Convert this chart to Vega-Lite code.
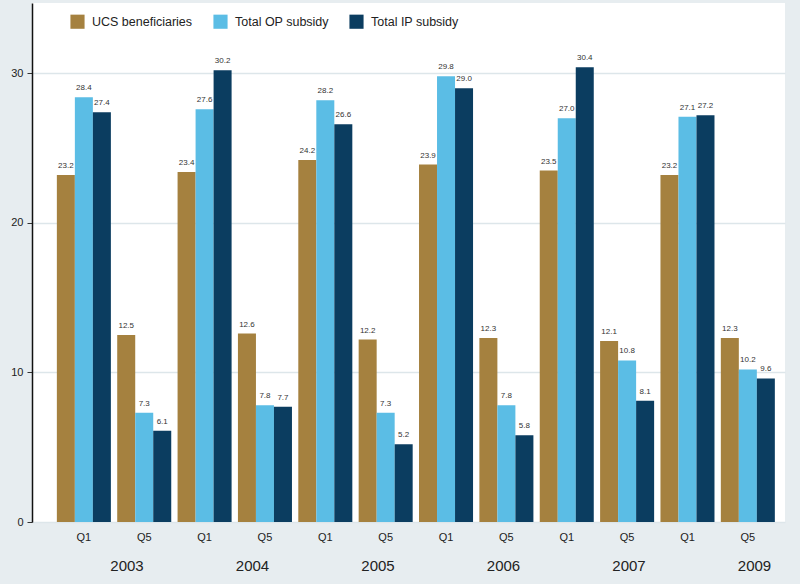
{
  "$schema": "https://vega.github.io/schema/vega-lite/v6.json",
  "width": 753,
  "height": 519,
  "autosize": {"type": "none"},
  "padding": {"left": 32, "top": 3, "right": 15, "bottom": 62},
  "background": "#e7edf0",
  "config": {
    "view": {"fill": "white", "stroke": null},
    "font": "Liberation Sans"
  },
  "datasets": {
    "bars": [
      {"yq": "2003 Q1", "series": "UCS beneficiaries", "value": 23.2},
      {"yq": "2003 Q1", "series": "Total OP subsidy", "value": 28.4},
      {"yq": "2003 Q1", "series": "Total IP subsidy", "value": 27.4},
      {"yq": "2003 Q5", "series": "UCS beneficiaries", "value": 12.5},
      {"yq": "2003 Q5", "series": "Total OP subsidy", "value": 7.3},
      {"yq": "2003 Q5", "series": "Total IP subsidy", "value": 6.1},
      {"yq": "2004 Q1", "series": "UCS beneficiaries", "value": 23.4},
      {"yq": "2004 Q1", "series": "Total OP subsidy", "value": 27.6},
      {"yq": "2004 Q1", "series": "Total IP subsidy", "value": 30.2},
      {"yq": "2004 Q5", "series": "UCS beneficiaries", "value": 12.6},
      {"yq": "2004 Q5", "series": "Total OP subsidy", "value": 7.8},
      {"yq": "2004 Q5", "series": "Total IP subsidy", "value": 7.7},
      {"yq": "2005 Q1", "series": "UCS beneficiaries", "value": 24.2},
      {"yq": "2005 Q1", "series": "Total OP subsidy", "value": 28.2},
      {"yq": "2005 Q1", "series": "Total IP subsidy", "value": 26.6},
      {"yq": "2005 Q5", "series": "UCS beneficiaries", "value": 12.2},
      {"yq": "2005 Q5", "series": "Total OP subsidy", "value": 7.3},
      {"yq": "2005 Q5", "series": "Total IP subsidy", "value": 5.2},
      {"yq": "2006 Q1", "series": "UCS beneficiaries", "value": 23.9},
      {"yq": "2006 Q1", "series": "Total OP subsidy", "value": 29.8},
      {"yq": "2006 Q1", "series": "Total IP subsidy", "value": 29.0},
      {"yq": "2006 Q5", "series": "UCS beneficiaries", "value": 12.3},
      {"yq": "2006 Q5", "series": "Total OP subsidy", "value": 7.8},
      {"yq": "2006 Q5", "series": "Total IP subsidy", "value": 5.8},
      {"yq": "2007 Q1", "series": "UCS beneficiaries", "value": 23.5},
      {"yq": "2007 Q1", "series": "Total OP subsidy", "value": 27.0},
      {"yq": "2007 Q1", "series": "Total IP subsidy", "value": 30.4},
      {"yq": "2007 Q5", "series": "UCS beneficiaries", "value": 12.1},
      {"yq": "2007 Q5", "series": "Total OP subsidy", "value": 10.8},
      {"yq": "2007 Q5", "series": "Total IP subsidy", "value": 8.1},
      {"yq": "2009 Q1", "series": "UCS beneficiaries", "value": 23.2},
      {"yq": "2009 Q1", "series": "Total OP subsidy", "value": 27.1},
      {"yq": "2009 Q1", "series": "Total IP subsidy", "value": 27.2},
      {"yq": "2009 Q5", "series": "UCS beneficiaries", "value": 12.3},
      {"yq": "2009 Q5", "series": "Total OP subsidy", "value": 10.2},
      {"yq": "2009 Q5", "series": "Total IP subsidy", "value": 9.6}
    ],
    "years": [
      {"year": "2003"}, {"year": "2004"}, {"year": "2005"},
      {"year": "2006"}, {"year": "2007"}, {"year": "2009"}
    ]
  },
  "layer": [
    {
      "data": {"name": "bars"},
      "encoding": {
        "x": {
          "field": "yq", "type": "nominal", "sort": null,
          "scale": {"paddingInner": 0.105, "paddingOuter": 0.29, "align": 0.71},
          "axis": {
            "title": null, "domain": false, "ticks": false, "grid": false,
            "labelAngle": 0, "labelFontSize": 11, "labelColor": "#222",
            "labelPadding": 9,
            "labelExpr": "split(datum.label, ' ')[1]"
          }
        },
        "xOffset": {
          "field": "series", "type": "nominal",
          "sort": ["UCS beneficiaries", "Total OP subsidy", "Total IP subsidy"],
          "scale": {"paddingInner": 0, "paddingOuter": 0}
        },
        "y": {
          "field": "value", "type": "quantitative",
          "scale": {"domain": [0, 34.7], "nice": false},
          "axis": {
            "title": null, "values": [0, 10, 20, 30], "domainColor": "#111",
            "domainWidth": 1.5, "tickColor": "#333", "tickSize": 5,
            "labelFontSize": 11, "labelColor": "#222", "labelPadding": 4,
            "gridColor": "#dde6ea", "gridWidth": 1.5
          }
        }
      },
      "layer": [
        {
          "mark": {"type": "bar"},
          "encoding": {
            "color": {
              "field": "series", "type": "nominal",
              "scale": {
                "domain": ["UCS beneficiaries", "Total OP subsidy", "Total IP subsidy"],
                "range": ["#a5813f", "#5bbde5", "#0b3d60"]
              },
              "legend": {
                "title": null, "orient": "none", "legendX": 38, "legendY": 11,
                "direction": "horizontal", "symbolType": "square",
                "symbolSize": 200, "symbolStrokeWidth": 0, "symbolOpacity": 1,
                "labelFontSize": 12.5, "labelColor": "#222", "columnPadding": 20,
                "labelOffset": 7
              }
            }
          }
        },
        {
          "mark": {"type": "text", "fontSize": 8, "baseline": "bottom", "dy": -5, "color": "#333"},
          "encoding": {
            "text": {"field": "value", "type": "quantitative", "format": ".1f"}
          }
        }
      ]
    },
    {
      "data": {"name": "years"},
      "mark": {"type": "text", "text": ""},
      "encoding": {
        "x": {
          "field": "year", "type": "nominal", "sort": null,
          "scale": {"paddingInner": 0, "paddingOuter": 0.1188, "align": 0.753},
          "axis": {
            "orient": "bottom", "title": null, "domain": false, "ticks": false,
            "grid": false, "labelAngle": 0, "labelFontSize": 15,
            "labelColor": "#222", "labelPadding": 36
          }
        }
      }
    }
  ],
  "resolve": {"scale": {"x": "independent"}, "axis": {"x": "independent"}}
}
